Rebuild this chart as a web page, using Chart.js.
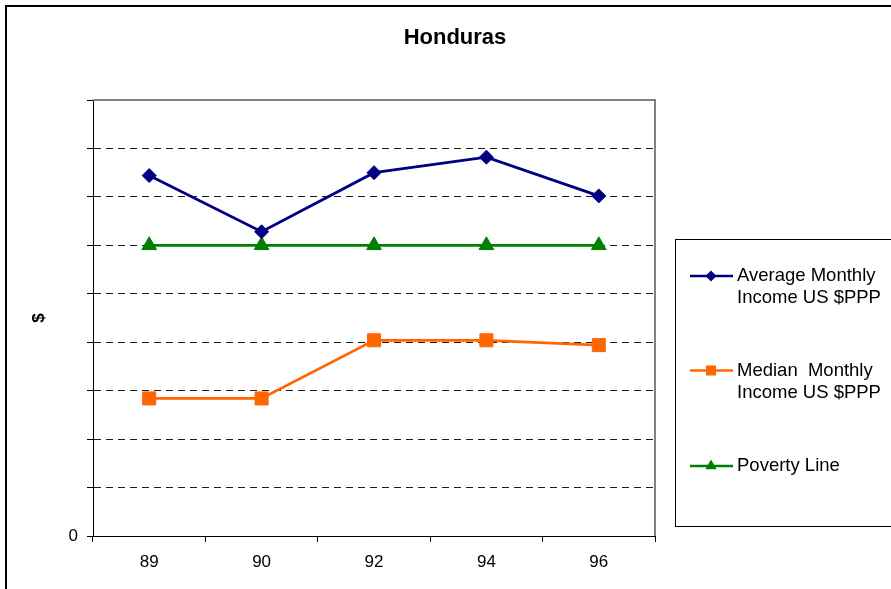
<!DOCTYPE html>
<html>
<head>
<meta charset="utf-8">
<script src="https://cdn.jsdelivr.net/npm/chart.js@4/dist/chart.umd.min.js"></script>
<style>
  html, body { margin: 0; padding: 0; background: #fff; }
  #wrap { width: 891px; height: 589px; position: relative; }
  canvas { display: block; }
</style>
</head>
<body>
<div id="wrap"><canvas id="chart" width="891" height="589"></canvas></div>
<script>
// Survey years (x categories)
const years = ['89', '90', '92', '94', '96'];

// Monthly income series, US $PPP
const averageIncome = [372, 314, 375, 391, 351];
const medianIncome = [142, 142, 202, 202, 197];
const povertyLine = [300, 300, 300, 300, 300];

// Series names as shown in the legend (one entry per text line)
const averageName = ['Average Monthly', 'Income US $PPP'];
const medianName = ['Median  Monthly', 'Income US $PPP'];
const povertyName = ['Poverty Line'];

// Value axis: only the zero tick carries a label
const yMin = 0;
const yMax = 450;
const yStep = 50;
const yTickLabels = { 0: '0' };

const chartTitle = 'Honduras';
const yAxisTitle = '$';

const FONT = 'Arial, "Liberation Sans", sans-serif';

// White page with the heavy outer frame and the chart title
const framePlugin = {
  id: 'frame',
  beforeDraw(chart) {
    const ctx = chart.ctx;
    ctx.save();
    ctx.fillStyle = '#fff';
    ctx.fillRect(0, 0, chart.width, chart.height);
    ctx.strokeStyle = '#000';
    ctx.lineWidth = 2;
    ctx.strokeRect(6, 6, chart.width + 20, chart.height + 20);
    ctx.restore();
  },
  afterDraw(chart) {
    const ctx = chart.ctx;
    ctx.save();
    ctx.fillStyle = '#000';
    ctx.font = 'bold 22px ' + FONT;
    ctx.textAlign = 'center';
    ctx.textBaseline = 'middle';
    ctx.fillText(chartTitle, 455, 38);
    ctx.restore();
  }
};

// Grey top and right edges of the plot area
const plotEdgePlugin = {
  id: 'plotEdge',
  beforeDatasetsDraw(chart) {
    const { ctx, chartArea: a } = chart;
    ctx.save();
    ctx.strokeStyle = '#808080';
    ctx.lineWidth = 2;
    ctx.beginPath();
    ctx.moveTo(Math.round(a.left), Math.round(a.top));
    ctx.lineTo(Math.round(a.right), Math.round(a.top));
    ctx.lineTo(Math.round(a.right), Math.round(a.bottom));
    ctx.stroke();
    ctx.restore();
  }
};

function drawMarker(ctx, style, x, y, r, color) {
  ctx.fillStyle = color;
  ctx.beginPath();
  if (style === 'rectRot') {
    ctx.moveTo(x - r, y);
    ctx.lineTo(x, y - r);
    ctx.lineTo(x + r, y);
    ctx.lineTo(x, y + r);
  } else if (style === 'rect') {
    ctx.rect(x - r, y - r, 2 * r, 2 * r);
  } else if (style === 'triangle') {
    ctx.moveTo(x, y - r);
    ctx.lineTo(x + r * 0.866, y + r / 2);
    ctx.lineTo(x - r * 0.866, y + r / 2);
  }
  ctx.closePath();
  ctx.fill();
}

// Boxed legend at the right, entries taken from the datasets
const legendBoxPlugin = {
  id: 'legendBox',
  afterDraw(chart) {
    const ctx = chart.ctx;
    ctx.save();
    ctx.strokeStyle = '#000';
    ctx.lineWidth = 1;
    ctx.strokeRect(675.5, 239.5, 260, 287);
    ctx.font = '18.5px ' + FONT;
    ctx.textBaseline = 'middle';
    ctx.textAlign = 'left';
    const itemY = [276, 370.5, 466];
    const markerSize = { rectRot: 5.5, rect: 5, triangle: 6.5 };
    chart.data.datasets.forEach((ds, i) => {
      const y = itemY[i];
      ctx.strokeStyle = ds.borderColor;
      ctx.lineWidth = 2.5;
      ctx.beginPath();
      ctx.moveTo(690, y);
      ctx.lineTo(733, y);
      ctx.stroke();
      drawMarker(ctx, ds.pointStyle, 711, y, markerSize[ds.pointStyle], ds.borderColor);
      ctx.fillStyle = '#000';
      ds.label.split('\n').forEach((line, k) => {
        ctx.fillText(line, 737, y + k * 22);
      });
    });
    ctx.restore();
  }
};

new Chart(document.getElementById('chart'), {
  type: 'line',
  data: {
    labels: years,
    datasets: [
      {
        label: averageName.join('\n'),
        data: averageIncome,
        borderColor: '#000080',
        backgroundColor: '#000080',
        borderWidth: 2.8,
        pointStyle: 'rectRot',
        pointRadius: 7,
        pointBorderWidth: 1,
        tension: 0
      },
      {
        label: medianName.join('\n'),
        data: medianIncome,
        borderColor: '#FF6600',
        backgroundColor: '#FF6600',
        borderWidth: 2.8,
        pointStyle: 'rect',
        pointRadius: 9.2,
        pointBorderWidth: 1,
        tension: 0
      },
      {
        label: povertyName.join('\n'),
        data: povertyLine,
        borderColor: '#008000',
        backgroundColor: '#008000',
        borderWidth: 2.8,
        pointStyle: 'triangle',
        pointRadius: 8.5,
        pointBorderWidth: 1,
        tension: 0
      }
    ]
  },
  options: {
    responsive: false,
    devicePixelRatio: 1,
    animation: false,
    events: [],
    layout: { padding: { top: 100, right: 236, bottom: 0, left: 0 } },
    plugins: {
      legend: { display: false },
      title: { display: false },
      tooltip: { enabled: false }
    },
    scales: {
      x: {
        type: 'category',
        offset: true,
        grid: {
          offset: true,
          drawOnChartArea: false,
          drawTicks: true,
          tickLength: 6,
          color: '#000',
          tickColor: '#000'
        },
        border: { display: true, color: '#000', width: 1 },
        ticks: {
          color: '#000',
          font: { family: FONT, size: 17 },
          padding: 10,
          maxRotation: 0,
          autoSkip: false
        },
        afterFit(scale) { scale.height = 53; }
      },
      y: {
        min: yMin,
        max: yMax,
        grid: {
          color: (c) => (c.tick && c.tick.value === yMax ? 'rgba(0,0,0,0)' : '#1a1a1a'),
          lineWidth: 1,
          drawTicks: true,
          tickLength: 6,
          tickColor: '#000',
          tickBorderDash: []
        },
        border: { display: true, color: '#000', width: 1, dash: [7, 5] },
        ticks: {
          stepSize: yStep,
          color: '#000',
          font: { family: FONT, size: 17 },
          padding: 9,
          callback: (v) => (yTickLabels[v] !== undefined ? yTickLabels[v] : '')
        },
        title: {
          display: true,
          text: yAxisTitle,
          color: '#000',
          font: { family: FONT, size: 17, weight: 'bold' },
          padding: { top: 29, bottom: 0 }
        },
        afterFit(scale) { scale.width = 93; }
      }
    }
  },
  plugins: [framePlugin, plotEdgePlugin, legendBoxPlugin]
});
</script>
</body>
</html>
